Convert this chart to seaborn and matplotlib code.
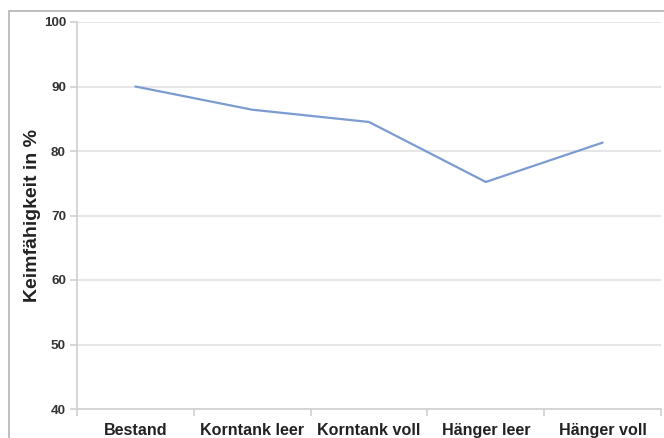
import matplotlib
matplotlib.use("Agg")
import matplotlib.pyplot as plt
from matplotlib.patches import Rectangle
from matplotlib.ticker import FixedLocator
import seaborn as sns
import pandas as pd

categories = ["Bestand", "Korntank leer", "Korntank voll", "Hänger leer", "Hänger voll"]
keimfaehigkeit = [90.0, 86.4, 84.5, 75.2, 81.3]
y_ticks = [40, 50, 60, 70, 80, 90, 100]

df = pd.DataFrame({"Probe": categories, "Keimfähigkeit": keimfaehigkeit})

sns.set_theme(style="white")
plt.rcParams["font.family"] = ["Liberation Sans", "DejaVu Sans"]

fig = plt.figure(figsize=(6.64, 4.38), dpi=100)
ax = fig.add_axes([77 / 664, 29 / 438, 584 / 664, 387 / 438])

# chart frame
fig.patches.append(Rectangle((8.5 / 664, -0.1), 1.2, 1 - 11 / 438 + 0.1,
                             transform=fig.transFigure, fill=False,
                             edgecolor="#b4b4b4", linewidth=1.2, zorder=0))

sns.lineplot(data=df, x="Probe", y="Keimfähigkeit", ax=ax, sort=False,
             color="#7c9bd0", linewidth=1.6)

ax.set_ylim(40, 100)
ax.set_xlim(-0.5, len(categories) - 0.5)
ax.set_yticks(y_ticks)
ax.set_yticklabels([str(v) for v in y_ticks], fontsize=9.7, fontweight="bold", color="#333333")
ax.set_xticks(range(len(categories)))
ax.set_xticklabels(categories, fontsize=11.6, fontweight="bold", color="#222222")
ax.xaxis.set_minor_locator(FixedLocator([i - 0.5 for i in range(len(categories) + 1)]))
ax.tick_params(axis="x", which="major", length=0, pad=10)
ax.tick_params(axis="x", which="minor", length=5, color="#d0d0d0", width=1.2, direction="out", bottom=True)
ax.tick_params(axis="y", length=5, color="#d0d0d0", width=1.2, direction="out", left=True, pad=3)

ax.grid(axis="y", color="#e6e6e6", linewidth=1.5)
ax.grid(axis="x", visible=False)
for side in ["top", "right"]:
    ax.spines[side].set_visible(False)
ax.spines["left"].set_color("#d0d0d0")
ax.spines["bottom"].set_color("#d0d0d0")
ax.spines["left"].set_linewidth(1.2)
ax.spines["bottom"].set_linewidth(1.2)

ax.set_xlabel("")
ax.set_ylabel("Keimfähigkeit in %", fontsize=14, fontweight="bold", color="#222222")
ax.yaxis.set_label_coords(-0.062, 0.5)

fig.savefig("out.png", dpi=100)
